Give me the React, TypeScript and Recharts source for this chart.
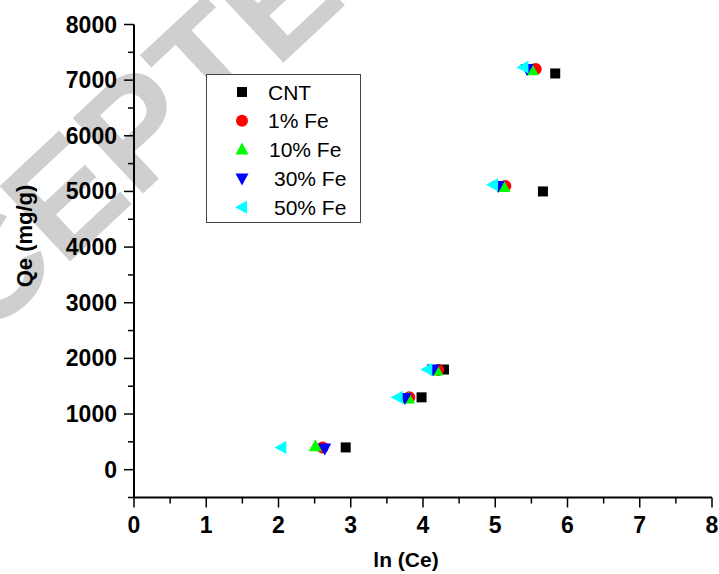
import { Scatter, ScatterChart, XAxis, YAxis } from "recharts";

// ln(Ce) vs Qe
const CNT = [
  { x: 2.93, y: 400 },
  { x: 3.98, y: 1300 },
  { x: 4.29, y: 1800 },
  { x: 5.66, y: 5000 },
  { x: 5.83, y: 7120 },
];
const FE1 = [
  { x: 2.61, y: 400 },
  { x: 3.81, y: 1300 },
  { x: 4.21, y: 1790 },
  { x: 5.14, y: 5100 },
  { x: 5.56, y: 7200 },
];
const FE10 = [
  { x: 2.51, y: 420 },
  { x: 3.8, y: 1280 },
  { x: 4.19, y: 1780 },
  { x: 5.12, y: 5080 },
  { x: 5.51, y: 7180 },
];
const FE30 = [
  { x: 2.64, y: 380 },
  { x: 3.75, y: 1290 },
  { x: 4.14, y: 1800 },
  { x: 5.04, y: 5100 },
  { x: 5.44, y: 7200 },
];
const FE50 = [
  { x: 2.04, y: 400 },
  { x: 3.65, y: 1300 },
  { x: 4.06, y: 1800 },
  { x: 4.97, y: 5120 },
  { x: 5.39, y: 7230 },
];

const X_TICKS = [0, 0.5, 1, 1.5, 2, 2.5, 3, 3.5, 4, 4.5, 5, 5.5, 6, 6.5, 7, 7.5, 8];
const Y_TICKS = [-500, 0, 500, 1000, 1500, 2000, 2500, 3000, 3500, 4000, 4500, 5000, 5500, 6000, 6500, 7000, 7500, 8000];

const SERIES = [
  { name: "CNT", data: CNT, color: "#000000", kind: "square", textX: 62 },
  { name: "1% Fe", data: FE1, color: "#ff0000", kind: "circle", textX: 62 },
  { name: "10% Fe", data: FE10, color: "#00ff00", kind: "up", textX: 63 },
  { name: "30% Fe", data: FE30, color: "#0000ff", kind: "down", textX: 68 },
  { name: "50% Fe", data: FE50, color: "#00ffff", kind: "left", textX: 68 },
];

const FONT = '"Liberation Sans", Arial, sans-serif';

function Marker({ cx, cy, kind, color }: any) {
  if (cx == null || cy == null) return null;
  switch (kind) {
    case "square":
      return <rect x={cx - 5} y={cy - 5} width={10} height={10} fill={color} />;
    case "circle":
      return <circle cx={cx} cy={cy} r={6} fill={color} />;
    case "up":
      return <polygon points={`${cx},${cy - 7} ${cx - 6.5},${cy + 5} ${cx + 6.5},${cy + 5}`} fill={color} />;
    case "down":
      return <polygon points={`${cx},${cy + 7} ${cx - 6.5},${cy - 5} ${cx + 6.5},${cy - 5}`} fill={color} />;
    default:
      return <polygon points={`${cx - 7},${cy} ${cx + 5},${cy - 6.5} ${cx + 5},${cy + 6.5}`} fill={color} />;
  }
}

const isMajor = (v: number, step: number) => Math.abs(v / step - Math.round(v / step)) < 1e-6;

function BottomTick({ x, y, payload }: any) {
  const major = isMajor(payload.value, 1);
  return (
    <g>
      <line x1={x} x2={x} y1={y} y2={y + (major ? 10 : 6)} stroke="#000" strokeWidth={1.5} />
      {major && (
        <text x={x} y={y + 35.5} textAnchor="middle" fontFamily={FONT} fontWeight="bold" fontSize={23} fill="#000">
          {payload.value}
        </text>
      )}
    </g>
  );
}

function LeftTick({ x, y, payload }: any) {
  const major = isMajor(payload.value, 1000);
  return (
    <g>
      <line x1={x - (major ? 10 : 6)} x2={x} y1={y} y2={y} stroke="#000" strokeWidth={1.5} />
      {major && (
        <text x={x - 17} y={y + 8} textAnchor="end" fontFamily={FONT} fontWeight="bold" fontSize={23} fill="#000">
          {payload.value}
        </text>
      )}
    </g>
  );
}

function TopTick({ x, y }: any) {
  return <line x1={x} x2={x} y1={y} y2={y + 4} stroke="#000" strokeWidth={1.5} />;
}

function RightTick({ x, y }: any) {
  return <line x1={x - 4} x2={x} y1={y} y2={y} stroke="#000" strokeWidth={1.5} />;
}

function Legend() {
  return (
    <div
      style={{
        position: "absolute",
        left: 206,
        top: 74,
        width: 155,
        height: 149,
        boxSizing: "border-box",
        border: "1px solid #444",
        background: "#fff",
      }}
    >
      <svg width={153} height={147} style={{ display: "block" }}>
        {SERIES.map((s, i) => {
          const cy = 17 + i * 28.8;
          return (
            <g key={s.name}>
              <Marker cx={35} cy={cy} kind={s.kind} color={s.color} />
              <text x={s.textX - 1} y={cy + 7.5} fontFamily={FONT} fontSize={21} fill="#000">
                {s.name}
              </text>
            </g>
          );
        })}
      </svg>
    </div>
  );
}

export default function App() {
  return (
    <div style={{ position: "absolute", left: 0, top: 0, width: 719, height: 574, background: "#fff" }}>
      <svg width={719} height={574} style={{ position: "absolute", left: 0, top: 0 }}>
        <text
          transform="translate(-175,490) rotate(-43)"
          fontFamily={FONT}
          fontWeight="bold"
          fontSize={150}
          fill="#cfcfcf"
        >
          ACCEPTED
        </text>
      </svg>
      <div style={{ position: "absolute", left: 0, top: 0 }}>
        <ScatterChart width={719} height={574} margin={{ top: 24.5, right: 7, bottom: 46.5, left: 74 }}>
          <XAxis
            dataKey="x"
            type="number"
            domain={[0, 8]}
            ticks={X_TICKS}
            interval={0}
            allowDataOverflow
            height={30}
            tickSize={0}
            tickMargin={0}
            tickLine={false}
            tick={<BottomTick />}
            axisLine={{ stroke: "#000", strokeWidth: 2 }}
            label={{
              content: () => (
                <text x={406} y={567} textAnchor="middle" fontFamily={FONT} fontWeight="bold" fontSize={21} fill="#000">
                  ln (Ce)
                </text>
              ),
            }}
          />
          <XAxis
            xAxisId="top"
            orientation="top"
            dataKey="x"
            type="number"
            domain={[0, 8]}
            ticks={X_TICKS}
            interval={0}
            allowDataOverflow
            height={0}
            tickSize={0}
            tickMargin={0}
            tickLine={false}
            tick={<TopTick />}
            axisLine={{ stroke: "#000", strokeWidth: 2 }}
          />
          <YAxis
            dataKey="y"
            type="number"
            domain={[-500, 8000]}
            ticks={Y_TICKS}
            interval={0}
            allowDataOverflow
            width={60}
            tickSize={0}
            tickMargin={0}
            tickLine={false}
            tick={<LeftTick />}
            axisLine={{ stroke: "#000", strokeWidth: 2 }}
            label={{
              content: () => (
                <text
                  transform="translate(32,236) rotate(-90)"
                  textAnchor="middle"
                  fontFamily={FONT}
                  fontWeight="bold"
                  fontSize={22}
                  fill="#000"
                >
                  Qe (mg/g)
                </text>
              ),
            }}
          />
          <YAxis
            yAxisId="right"
            orientation="right"
            dataKey="y"
            type="number"
            domain={[-500, 8000]}
            ticks={Y_TICKS}
            interval={0}
            allowDataOverflow
            width={0}
            tickSize={0}
            tickMargin={0}
            tickLine={false}
            tick={<RightTick />}
            axisLine={{ stroke: "#000", strokeWidth: 2 }}
          />
          {SERIES.map((s) => (
            <Scatter
              key={s.name}
              name={s.name}
              data={s.data}
              fill={s.color}
              isAnimationActive={false}
              shape={(p: any) => <Marker cx={p.cx} cy={p.cy} kind={s.kind} color={s.color} />}
            />
          ))}
        </ScatterChart>
      </div>
      <Legend />
    </div>
  );
}
